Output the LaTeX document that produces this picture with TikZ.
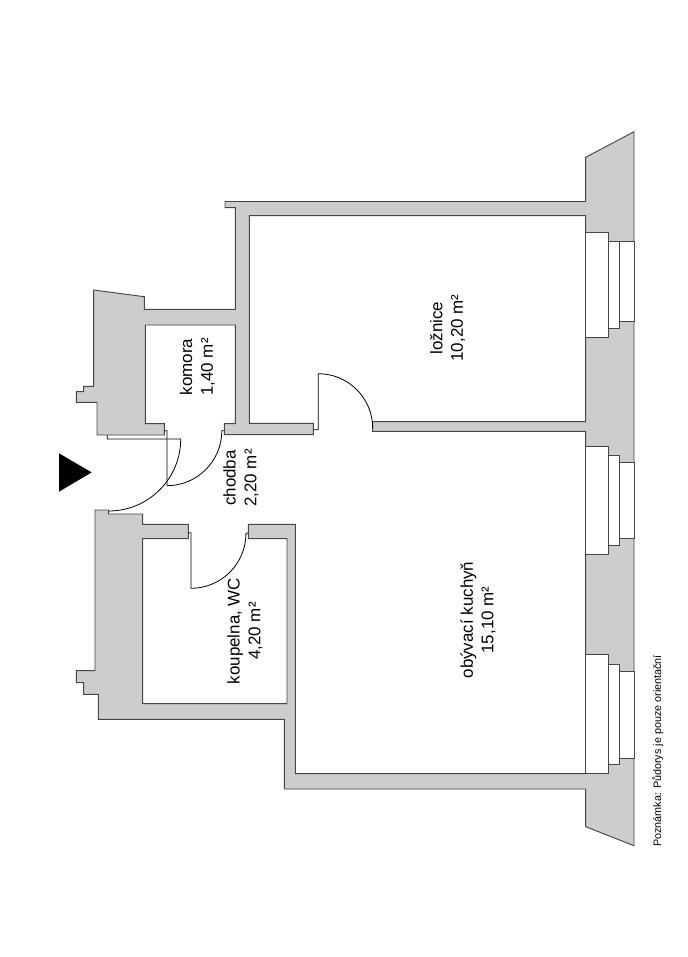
\documentclass[tikz,border=0pt]{standalone}
\usepackage{fontspec}
\setmainfont{Liberation Sans}
\definecolor{wallgray}{RGB}{205, 205, 205}
\definecolor{walledge}{RGB}{70, 70, 70}
\tikzset{
    wall/.style={draw=walledge, fill=wallgray, line width=0.7pt, line join=miter},
    windowbox/.style={draw=walledge, fill=white, line width=0.7pt},
    windowline/.style={draw=walledge, line width=0.7pt},
    door/.style={draw=black, line width=0.6pt},
    roomlabel/.style={rotate=90, align=center, font=\fontsize{12.7}{15.5}\selectfont, text=black, inner sep=0pt},
    notelabel/.style={rotate=90, font=\fontsize{8.1}{10}\selectfont, text=black, inner sep=0pt},
}
\begin{document}
\begin{tikzpicture}[x=0.75pt, y=-0.75pt]
    \useasboundingbox (0,0) rectangle (687,957);

    % walls
    \path[wall] (93.7,290) -- (144.3,296.7) -- (144.3,309.3) -- (235.3,309.3) -- (235.3,207.7)
        -- (225,207.7) -- (225,201.5) -- (585.7,201.5) -- (585.7,157.3) -- (634,131.7)
        -- (634,845.7) -- (585.7,826.7) -- (585.7,789) -- (284.3,789) -- (284.3,719.3)
        -- (98.3,719.3) -- (98.3,694.3) -- (83.7,694.3) -- (83.7,682.7) -- (76.3,682.7)
        -- (76.3,670.7) -- (95,670.7) -- (95,510) -- (108.7,510) -- (108.7,514)
        -- (142.7,514) -- (142.7,524.3) -- (188.3,524.3) -- (188.3,538.7) -- (142.7,538.7)
        -- (142.7,703.7) -- (287,703.7) -- (287,538.7) -- (248.3,538.7) -- (248.3,524.3)
        -- (295.3,524.3) -- (295.3,773.7) -- (585.7,773.7) -- (585.7,431.3) -- (372.7,431.3)
        -- (372.7,421.7) -- (585.7,421.7) -- (585.7,215.7) -- (249.3,215.7) -- (249.3,423.3)
        -- (313.3,423.3) -- (313.3,434.7) -- (224.3,434.7) -- (224.3,423.7) -- (235.3,423.7)
        -- (235.3,325) -- (145.3,325) -- (145.3,423.7) -- (164.3,423.7) -- (164.3,435)
        -- (97,435) -- (97,402.3) -- (76.3,402.3) -- (76.3,391.7) -- (83.7,391.7)
        -- (83.7,386.3) -- (93.7,386.3) -- cycle;

    % windows
    \path[windowbox] (585.7,232.3) -- (608.3,232.3) -- (608.3,241) -- (634,241) -- (634,321.3)
        -- (619,321.3) -- (619,328.7) -- (608.3,328.7) -- (608.3,337.3) -- (585.7,337.3) -- cycle;
    \path[windowbox] (585.7,446.3) -- (608.3,446.3) -- (608.3,455) -- (619,455) -- (619,462)
        -- (634,462) -- (634,538.3) -- (619,538.3) -- (619,545) -- (608.3,545) -- (608.3,554.3)
        -- (585.7,554.3) -- cycle;
    \path[windowbox] (585.7,654.7) -- (608.3,654.7) -- (608.3,664.3) -- (619,664.3) -- (619,671.3)
        -- (634,671.3) -- (634,758) -- (619,758) -- (619,764.3) -- (608.3,764.3) -- (608.3,773.7)
        -- (585.7,773.7) -- cycle;
    \path[windowline] (608.3,241) -- (608.3,328.7);
    \path[windowline] (619,241) -- (619,321.3);
    \path[windowline] (608.3,455) -- (608.3,545);
    \path[windowline] (619,462) -- (619,538.3);
    \path[windowline] (608.3,664.3) -- (608.3,764.3);
    \path[windowline] (619,671.3) -- (619,758);

    % doors
    \path[door] (107.3,435) -- (107.3,439) -- (180.7,439) arc[start angle=0, end angle=-90, radius=54pt];
    \path[door] (164.3,430.7) -- (166.9,430.7) -- (166.9,485.7) arc[start angle=-90, end angle=0, radius=41.2pt] -- (224.3,430.7);
    \path[door] (188.3,532.8) -- (191,532.8) -- (191,588.3) arc[start angle=-90, end angle=0, radius=41.2pt] -- (248.3,532.8);
    \path[door] (313.3,429.7) -- (318.3,429.7) -- (318.3,373.7) arc[start angle=90, end angle=0, radius=40.8pt];

    % entrance mark
    \fill[black] (59,453.3) -- (91.7,472.4) -- (59,491.7) -- cycle;

    % labels
    \node[roomlabel] (loznice) at (447.5,328) {ložnice\\10,20 m²};
    \node[roomlabel] (komora) at (197.5,367) {komora\\1,40 m²};
    \node[roomlabel] (chodba) at (241,478) {chodba\\2,20 m²};
    \node[roomlabel] (koupelna) at (245,631) {koupelna, WC\\4,20 m²};
    \node[roomlabel] (obyvaci) at (478,620) {obývací kuchyň\\15,10 m²};
    \node[notelabel] (poznamka) at (658,751) {Poznámka: Půdorys je pouze orientační};
\end{tikzpicture}
\end{document}
